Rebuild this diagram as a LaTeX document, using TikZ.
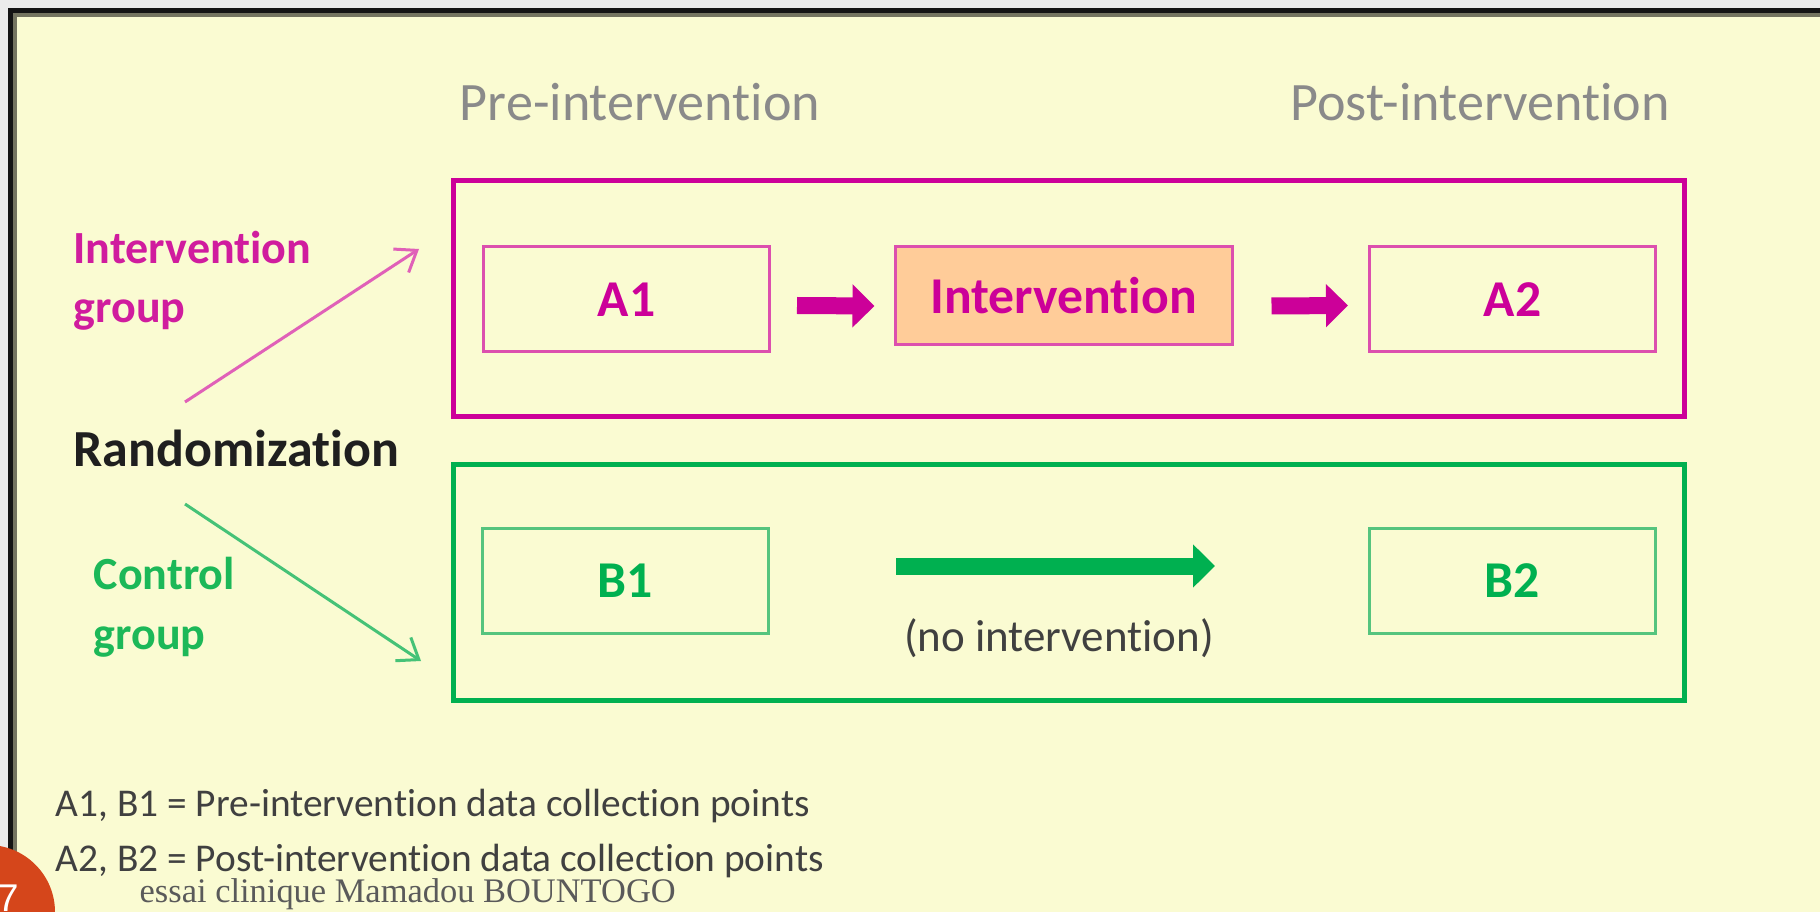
\documentclass[tikz,border=0pt]{standalone}
\usepackage{fontspec}
\setmainfont{Carlito}[RawFeature={-liga;-clig;-calt;-dlig}]
\newfontfamily\footfont{Liberation Serif}
\newfontfamily\numfont{Liberation Sans}
\usetikzlibrary{arrows.meta}
\definecolor{bgyellow}{HTML}{FAFBD2}
\definecolor{outergray}{HTML}{EBEBEB}
\definecolor{oliveline}{HTML}{747460}
\definecolor{mag}{HTML}{CC0099}
\definecolor{magtext}{HTML}{D01C9E}
\definecolor{maglight}{HTML}{DC4FAE}
\definecolor{magarrow}{HTML}{E060B8}
\definecolor{peach}{HTML}{FFCC99}
\definecolor{grn}{HTML}{00B050}
\definecolor{grntext}{HTML}{1CB858}
\definecolor{grnlight}{HTML}{55C47E}
\definecolor{grnarrow}{HTML}{45C277}
\definecolor{headgray}{HTML}{8A8A8A}
\definecolor{txtgray}{HTML}{404040}
\definecolor{footgray}{HTML}{5A5A5A}
\definecolor{slideorange}{HTML}{D5461B}
\tikzset{
  outerbox/.style={draw, line width=0.5mm, inner sep=0, fill=none},
  innerbox/.style={draw, line width=0.3mm, inner sep=0, minimum width=28.6mm, minimum height=10.5mm,
    font=\bfseries\fontsize{14.7}{17}\selectfont},
  headtxt/.style={inner sep=0, anchor=base, text=headgray, font=\fontsize{15.4}{18}\selectfont},
  grouptxt/.style={inner sep=0, anchor=base west, font=\bfseries\fontsize{13.1}{16}\selectfont},
  legendtxt/.style={inner sep=0, anchor=base west, text=txtgray, font=\fontsize{11.2}{13}\selectfont},
  blockarrow/.style={line width=1.7mm, -{Triangle[length=2.2mm, width=4.2mm]}},
  thinarrow/.style={line width=0.3mm, -{Straight Barb[length=1.9mm, width=2.8mm]}}
}
\begin{document}
\begin{tikzpicture}[x=0.1mm, y=-0.1mm]
\clip (0,0) rectangle (1820,912);
\useasboundingbox (0,0) rectangle (1820,912);
% slide frame
\fill[outergray] (0,0) rectangle (1820,912);
\fill[black!92] (8,8) rectangle (1820,912);
\fill[oliveline] (13,13) rectangle (1820,912);
\fill[bgyellow] (17,17) rectangle (1820,912);

% headings
\node[headtxt] (pre) at (640,121) {Pre-intervention};
\node[headtxt] (post) at (1480,121) {Post-intervention};

% outer group boxes
\node[outerbox, draw=mag, minimum width=123.1mm, minimum height=23.6mm] (outerI) at (1068.5,299) {};
\node[outerbox, draw=grn, minimum width=123.1mm, minimum height=23.6mm] (outerC) at (1068.5,582) {};

% inner boxes
\node[innerbox, draw=maglight, text=mag] (A1) at (626.5,299.5) {A1};
\node[innerbox, draw=maglight, fill=peach, text=mag, minimum width=33.7mm, minimum height=9.8mm] (Int) at (1063.5,296) {Intervention};
\node[innerbox, draw=maglight, text=mag] (A2) at (1512.5,299.5) {A2};
\node[innerbox, draw=grnlight, text=grn] (B1) at (625.5,581) {B1};
\node[innerbox, draw=grnlight, text=grn] (B2) at (1512.5,581) {B2};

% block arrows
\draw[blockarrow, mag] ([shift={(26,6)}]A1.east) -- ([shift={(-19,10)}]Int.west);
\draw[blockarrow, mag] ([shift={(38,10)}]Int.east) -- ([shift={(-20,6)}]A2.west);
\draw[blockarrow, grn] ([shift={(126,-15)}]B1.east) -- ([shift={(-153,-15)}]B2.west);
\node[inner sep=0, text=txtgray, font=\fontsize{12.8}{15}\selectfont] (noint) at (1059,638) {(no intervention)};

% left labels
\node[grouptxt, text=magtext] (gI1) at (73,264) {Intervention};
\node[grouptxt, text=magtext] (gI2) at (73,323) {group};
\node[inner sep=0, anchor=base west, text=black!88, font=\bfseries\fontsize{14.8}{17}\selectfont] (rand) at (73,466) {Randomization};
\node[grouptxt, text=grntext] (gC1) at (93,589) {Control};
\node[grouptxt, text=grntext] (gC2) at (93,649) {group};

% diagonal arrows
\coordinate (rTop) at (185,402);
\coordinate (iEnd) at (419,249);
\coordinate (rBot) at (185,504);
\coordinate (cEnd) at (421,661);
\draw[thinarrow, magarrow] (rTop) -- (iEnd);
\draw[thinarrow, grnarrow] (rBot) -- (cEnd);

% legend
\node[legendtxt] (leg1) at (55,816) {A1, B1 = Pre-intervention data collection points};
\node[legendtxt] (leg2) at (55,871) {A2, B2 = Post-intervention data collection points};

% footer
\fill[slideorange] (-12,912) circle[radius=6.7mm];
\node[inner sep=0, anchor=base west, text=white, font=\numfont\fontsize{11}{13}\selectfont] (num) at (-3,911) {7};
\node[inner sep=0, anchor=base west, text=footgray, font=\footfont\fontsize{9.8}{11}\selectfont] (foot) at (139,902) {essai clinique Mamadou BOUNTOGO};
\end{tikzpicture}
\end{document}
